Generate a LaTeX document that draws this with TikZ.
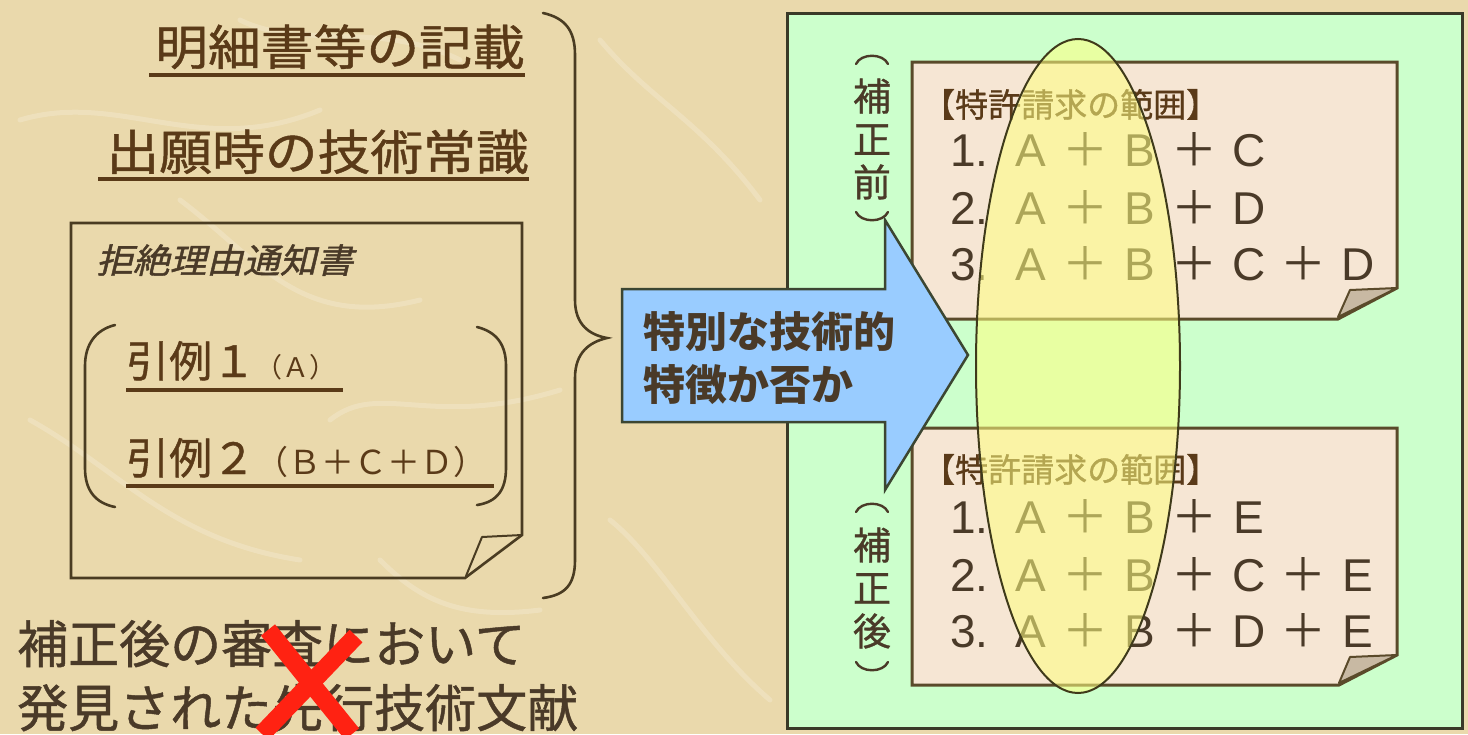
\documentclass[tikz,border=0pt]{standalone}
\usepackage{fontspec}
\setmainfont{Liberation Sans}
\newfontfamily\cjk{Noto Sans CJK JP}
\newfontfamily\cjkm{Noto Sans CJK JP}[FakeBold=0.9]
\newfontfamily\cjkit{Noto Sans CJK JP}[FakeSlant=0.22,FakeBold=1.2]
\newfontfamily\lsans{Liberation Sans}
\newcommand\myfs[1]{\fontsize{#1}{#1}\selectfont}
\newcommand\tk[1]{\makebox[54.6pt][c]{#1}}
\newcommand\pl{{\cjk ＋}}
\definecolor{bgc}{HTML}{EAD9AC}
\definecolor{brn}{HTML}{5A3A18}
\definecolor{dtxt}{HTML}{4A3A28}
\definecolor{lin}{HTML}{4A3C22}
\definecolor{grn}{HTML}{CCFFCC}
\definecolor{grnb}{HTML}{3A3A28}
\definecolor{ppr}{HTML}{F6E6D4}
\definecolor{pprb}{HTML}{5A4A2A}
\definecolor{fld}{HTML}{C8B9A3}
\definecolor{abl}{HTML}{99CCFF}
\definecolor{ablb}{HTML}{3C4632}
\definecolor{hly}{HTML}{FFFF80}
\definecolor{hlb}{HTML}{3F3A1A}
\definecolor{rx}{HTML}{FF2212}
\begin{document}
\begin{tikzpicture}[x=1pt,y=-1pt,
  ul/.style={line width=4pt,brn},
  brc/.style={line width=2.6pt,lin,line cap=round},
  vbrc/.style={line width=2.4pt,dtxt,line cap=round},
  streak/.style={white,opacity=0.2,line width=5pt,line cap=round},
  paperbox/.style={fill=ppr,draw=pprb,line width=3pt,line join=miter},
  foldbox/.style={fill=fld,draw=pprb,line width=2pt,line join=round},
  bigtxt/.style={inner sep=0pt,text=brn,font={\cjkm\myfs{48}}},
  rowtxt/.style={inner sep=0pt,text=dtxt,font={\lsans\myfs{46}}},
  ttltxt/.style={inner sep=0pt,text=brn,font={\cjkm\myfs{33}}},
  vlab/.style={inner sep=0pt,align=center,text=dtxt,font={\cjkm\fontsize{38}{43}\selectfont}},
  btxt/.style={inner sep=0pt,text=dtxt,font={\cjkm\myfs{51}}}]
\useasboundingbox (0,0) rectangle (1468,734);
\fill[bgc] (0,0) rectangle (1468,734);
% paper texture
\draw[streak] (20,120) .. controls (120,90) and (200,160) .. (320,110);
\draw[streak] (180,200) .. controls (260,260) and (300,330) .. (420,300);
\draw[streak] (30,420) .. controls (120,470) and (170,540) .. (300,560);
\draw[streak] (330,420) .. controls (380,380) and (430,430) .. (560,390);
\draw[streak] (600,40) .. controls (650,100) and (700,120) .. (760,200);
\draw[streak] (610,520) .. controls (660,560) and (700,640) .. (770,700);
\draw[streak] (380,560) .. controls (420,600) and (460,620) .. (540,610);
\draw[streak] (240,20) .. controls (300,50) and (380,20) .. (460,60);

% green box
\draw[fill=grn,draw=grnb,line width=3pt] (787,13) rectangle (1462,728);

% left: top texts
\node[bigtxt,anchor=base east] (spec) at (525,65) {\scalebox{1.1}[1]{明細書等の記載}};
\draw[ul] (149,75) -- (525,75);
\node[bigtxt,anchor=base east] (comm) at (529,170) {\scalebox{1.1}[1]{出願時の技術常識}};
\draw[ul] (98,179) -- (529,179);

% notice paper
\draw[lin,line width=2.6pt,line join=miter] (71,223) -- (522,223) -- (522,535) -- (465,578) -- (71,578) -- cycle;
\draw[lin,line width=2pt,line join=round] (522,535) -- (482,537) -- (466,576);
\node[inner sep=0pt,anchor=base west,text=dtxt,font={\cjkit\myfs{34}}] (notice) at (96,273) {\scalebox{1.08}[1]{拒絶理由通知書}};
\draw[brc] (115,325) .. controls (95,330) and (85,345) .. (85,366) -- (85,468) .. controls (85,490) and (95,503) .. (115,507);
\draw[brc] (477,327) .. controls (497,332) and (506,345) .. (506,366) -- (506,468) .. controls (506,490) and (497,502) .. (477,505);
\node[inner sep=0pt,anchor=base west,text=brn] (ref1) at (126,377) {{\cjkm\myfs{43}引例１}{\cjk\myfs{27}（Ａ）}};
\draw[ul] (126,390) -- (343,390);
\node[inner sep=0pt,anchor=base west,text=brn] (ref2) at (126,474) {{\cjkm\myfs{43}引例２}{\cjk\myfs{33}（Ｂ＋Ｃ＋Ｄ）}};
\draw[ul] (126,486) -- (494,486);

% big brace
\draw[brc] (543,13) .. controls (565,18) and (575,30) .. (575,55) -- (575,300) .. controls (575,325) and (590,335) .. (607,338) .. controls (590,342) and (575,352) .. (575,378) -- (575,560) .. controls (575,585) and (565,595) .. (543,598);

% bottom-left text
\node[btxt,anchor=base west] (later1) at (17,663) {補正後の審査において};
\node[btxt,anchor=base west] (later2) at (17,727) {発見された先行技術文献};
\draw[rx,line width=18pt] (268,630) -- (352,734);
\draw[rx,line width=18pt] (356,636) -- (262,734);

% claim papers
\draw[paperbox] (912,62) -- (1397,62) -- (1397,288) -- (1338,319) -- (912,319) -- cycle;
\draw[foldbox] (1397,288) -- (1350,290) -- (1338,317) -- cycle;
\draw[paperbox] (912,428) -- (1397,428) -- (1397,655) -- (1339,685) -- (912,685) -- cycle;
\draw[foldbox] (1397,655) -- (1350,657) -- (1339,683) -- cycle;

\node[ttltxt,anchor=base west] (t1) at (922,117) {【特許請求の範囲】};
\node[rowtxt,anchor=base west] (a1) at (950,166.5) {\makebox[53pt][l]{1.}\tk{A}\tk{\pl}\tk{B}\tk{\pl}\tk{C}};
\node[rowtxt,anchor=base west] (a2) at (950,224.5) {\makebox[53pt][l]{2.}\tk{A}\tk{\pl}\tk{B}\tk{\pl}\tk{D}};
\node[rowtxt,anchor=base west] (a3) at (950,280.5) {\makebox[53pt][l]{3.}\tk{A}\tk{\pl}\tk{B}\tk{\pl}\tk{C}\tk{\pl}\tk{D}};

\node[ttltxt,anchor=base west] (t2) at (922,482) {【特許請求の範囲】};
\node[rowtxt,anchor=base west] (b1) at (950,533.5) {\makebox[53pt][l]{1.}\tk{A}\tk{\pl}\tk{B}\tk{\pl}\tk{E}};
\node[rowtxt,anchor=base west] (b2) at (950,591.5) {\makebox[53pt][l]{2.}\tk{A}\tk{\pl}\tk{B}\tk{\pl}\tk{C}\tk{\pl}\tk{E}};
\node[rowtxt,anchor=base west] (b3) at (950,647.5) {\makebox[53pt][l]{3.}\tk{A}\tk{\pl}\tk{B}\tk{\pl}\tk{D}\tk{\pl}\tk{E}};

% vertical labels with vertical brackets
\node[vlab] (pre) at (872,139) {補\\正\\前};
\draw[vbrc] (856,64) .. controls (861,53) and (883,53) .. (888,64);
\draw[vbrc] (856,212) .. controls (861,223) and (883,223) .. (888,212);
\node[vlab] (post) at (872,588) {補\\正\\後};
\draw[vbrc] (856,512) .. controls (861,501) and (883,501) .. (888,512);
\draw[vbrc] (856,662) .. controls (861,673) and (883,673) .. (888,662);

% blue arrow
\draw[fill=abl,draw=ablb,line width=2.5pt,line join=miter] (622,289) -- (885,289) -- (885,220) -- (968,355) -- (885,490) -- (885,422) -- (622,422) -- cycle;
\node[inner sep=0pt,anchor=west,align=left,text=dtxt,font={\cjk\bfseries\fontsize{42}{53}\selectfont}] (q) at (643,358) {特別な技術的\\特徴か否か};

% highlight ellipse
\draw[fill=hly,fill opacity=0.55,draw=hlb,line width=2pt] (1078,366) ellipse [x radius=102, y radius=327];
\end{tikzpicture}
\end{document}
